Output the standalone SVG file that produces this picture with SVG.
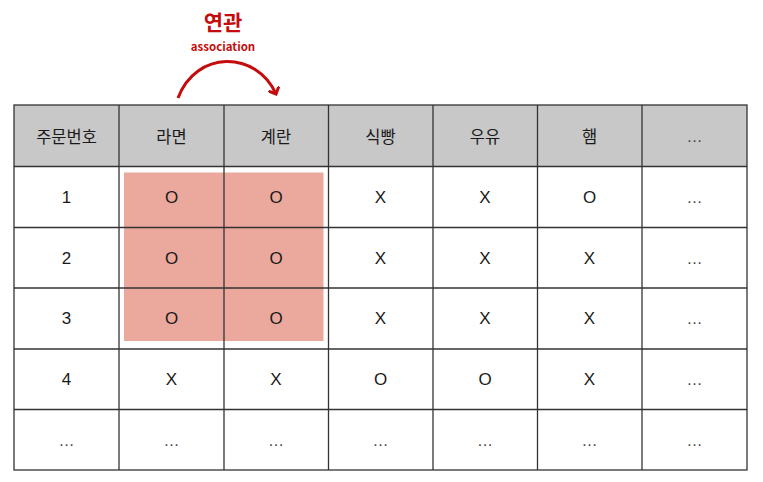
<svg xmlns="http://www.w3.org/2000/svg" width="763" height="482" viewBox="0 0 763 482">
<defs>
<style>
.t{font-family:"Liberation Sans","Noto Sans CJK KR",Arial,sans-serif;font-size:17px;fill:#1a1a1a;text-anchor:middle;dominant-baseline:central}
.k{font-family:"Noto Sans CJK KR","Liberation Sans",sans-serif;font-size:16.5px;fill:#1a1a1a;text-anchor:middle;dominant-baseline:central}
.e{fill:#444;font-size:16px}
.hd{fill:#c8c8c8}
.g{stroke:#333;stroke-width:1.3;fill:none}
.red{fill:#c40c0c;font-family:"Noto Sans CJK KR","Noto Sans",sans-serif;font-weight:bold;text-anchor:middle}
</style>
<marker id="ah" markerWidth="12" markerHeight="12" refX="6" refY="6" orient="auto" markerUnits="userSpaceOnUse">
<polyline points="0,0 6,6 0,12" fill="none" stroke="#c40c0c" stroke-width="3"/>
</marker>
</defs>
<rect width="763" height="482" fill="#fff"/>
<g id="label">
<text class="red" x="223" y="30" font-size="21">연관</text>
<text class="red" x="223" y="51" font-size="11.5">association</text>
</g>
<g id="connectors">
<path d="M178,98 C196,50 256,50 276,94" fill="none" stroke="#c40c0c" stroke-width="3" marker-end="url(#ah)"/>
</g>
<g id="table">
<rect class="hd" x="14" y="105" width="733" height="61.5"/>
<rect id="highlight" x="124" y="172.5" width="199.5" height="168.5" fill="#eba89d"/>
<g class="g">
<rect x="14" y="105" width="733" height="365"/>
<line x1="14" y1="166.5" x2="747" y2="166.5"/>
<line x1="14" y1="227.5" x2="747" y2="227.5"/>
<line x1="14" y1="288" x2="747" y2="288"/>
<line x1="14" y1="349" x2="747" y2="349"/>
<line x1="14" y1="409.5" x2="747" y2="409.5"/>
<line x1="119" y1="105" x2="119" y2="470"/>
<line x1="224" y1="105" x2="224" y2="470"/>
<line x1="328.5" y1="105" x2="328.5" y2="470"/>
<line x1="433" y1="105" x2="433" y2="470"/>
<line x1="537.5" y1="105" x2="537.5" y2="470"/>
<line x1="642" y1="105" x2="642" y2="470"/>
</g>
</g>
<g id="header">
<text class="k" x="66.5" y="135.5">주문번호</text>
<text class="k" x="171.5" y="135.5">라면</text>
<text class="k" x="276" y="135.5">계란</text>
<text class="k" x="380.5" y="135.5">식빵</text>
<text class="k" x="485" y="135.5">우유</text>
<text class="k" x="589.5" y="135.5">햄</text>
<text class="t e" x="694.5" y="136">…</text>
</g>
<g id="row1">
<text class="t" x="66.5" y="197">1</text>
<text class="t" x="171.5" y="197">O</text>
<text class="t" x="276" y="197">O</text>
<text class="t" x="380.5" y="197">X</text>
<text class="t" x="485" y="197">X</text>
<text class="t" x="589.5" y="197">O</text>
<text class="t e" x="694.5" y="197">…</text>
</g>
<g id="row2">
<text class="t" x="66.5" y="258">2</text>
<text class="t" x="171.5" y="258">O</text>
<text class="t" x="276" y="258">O</text>
<text class="t" x="380.5" y="258">X</text>
<text class="t" x="485" y="258">X</text>
<text class="t" x="589.5" y="258">X</text>
<text class="t e" x="694.5" y="258">…</text>
</g>
<g id="row3">
<text class="t" x="66.5" y="318.5">3</text>
<text class="t" x="171.5" y="318.5">O</text>
<text class="t" x="276" y="318.5">O</text>
<text class="t" x="380.5" y="318.5">X</text>
<text class="t" x="485" y="318.5">X</text>
<text class="t" x="589.5" y="318.5">X</text>
<text class="t e" x="694.5" y="318.5">…</text>
</g>
<g id="row4">
<text class="t" x="66.5" y="379">4</text>
<text class="t" x="171.5" y="379">X</text>
<text class="t" x="276" y="379">X</text>
<text class="t" x="380.5" y="379">O</text>
<text class="t" x="485" y="379">O</text>
<text class="t" x="589.5" y="379">X</text>
<text class="t e" x="694.5" y="379">…</text>
</g>
<g id="row5">
<text class="t e" x="66.5" y="440">…</text>
<text class="t e" x="171.5" y="440">…</text>
<text class="t e" x="276" y="440">…</text>
<text class="t e" x="380.5" y="440">…</text>
<text class="t e" x="485" y="440">…</text>
<text class="t e" x="589.5" y="440">…</text>
<text class="t e" x="694.5" y="440">…</text>
</g>
</svg>
